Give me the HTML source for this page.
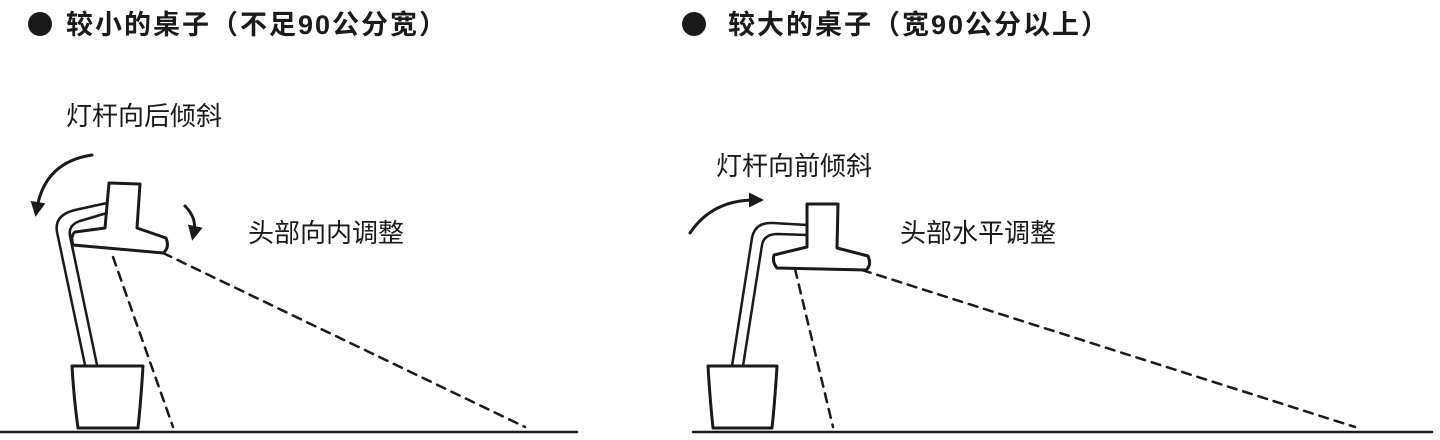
<!DOCTYPE html>
<html><head><meta charset="utf-8"><style>
html,body{margin:0;padding:0;background:#fff;width:1440px;height:440px;overflow:hidden}
svg{display:block}
text{font-family:"Liberation Sans","Noto Sans CJK SC",sans-serif;fill:#1a1a1a}
</style></head><body>
<svg width="1440" height="440" viewBox="0 0 1440 440">
<defs><marker id="ah" markerWidth="5" markerHeight="5" refX="2" refY="2.5" orient="auto" markerUnits="strokeWidth"><path d="M0,0 L5,2.5 L0,5 Z" fill="#1a1a1a"/></marker></defs>
<g stroke="#1a1a1a" fill="none" stroke-linejoin="round" stroke-linecap="round">
<g>
<circle cx="40" cy="24" r="12" fill="#1a1a1a" stroke="none"/>
<text x="66" y="34" font-size="27" font-weight="bold" letter-spacing="2" stroke="none">较小的桌子（不足90公分宽）</text>
<text x="66" y="125" font-size="26" stroke="none">灯杆向后倾斜</text>
<text x="248" y="242" font-size="26" stroke="none">头部向内调整</text>
<line x1="0" y1="432" x2="577" y2="432" stroke-width="2.5"/>
<path d="M72,366 L143,366 Q141,400 138,428 L78,428 Q74,400 72,366 Z" stroke-width="3" fill="#fff"/>
<path d="M85,365 L57,232 Q54,215 75,210 L107,203 M97,365 L70,236 Q68,225 80,221 L107,213" stroke-width="2.5"/>
<path d="M109,183 L140,184 L137,228 L166,238 Q170,248 163,253 L73,245 Q70,236 75,232 L105,228 Z" stroke-width="3" fill="#fff"/>
<path d="M113,257 L173,427 M163,253 L525,427" stroke-width="2.5" stroke-dasharray="9,7"/>
<path d="M92,155 Q45,162 37,208" stroke-width="3" marker-end="url(#ah)"/>
<path d="M185,206 Q197,218 194,232" stroke-width="3" marker-end="url(#ah)"/>
</g>
<g>
<circle cx="694" cy="24" r="12" fill="#1a1a1a" stroke="none"/>
<text x="728" y="34" font-size="27" font-weight="bold" letter-spacing="2" stroke="none">较大的桌子（宽90公分以上）</text>
<text x="716" y="175" font-size="26" stroke="none">灯杆向前倾斜</text>
<text x="900" y="242" font-size="26" stroke="none">头部水平调整</text>
<line x1="693" y1="432" x2="1432" y2="432" stroke-width="2.5"/>
<path d="M708,366 L777,366 Q775,400 772,428 L713,428 Q710,400 708,366 Z" stroke-width="3" fill="#fff"/>
<path d="M732,366 L752,238 Q755,222 773,223 L807,225 M743,366 L762,245 Q764,234 778,234 L807,235" stroke-width="2.5"/>
<path d="M807,204 L838,204 L837,248 L868,256 Q872,265 866,270 L777,268 Q772,262 774,255 L807,247 Z" stroke-width="3" fill="#fff"/>
<path d="M795,269 L833,427 M862,270 L1355,427" stroke-width="2.5" stroke-dasharray="9,7"/>
<path d="M690,233 Q712,200 755,200" stroke-width="3" marker-end="url(#ah)"/>
</g>
</g>
</svg>
</body></html>
